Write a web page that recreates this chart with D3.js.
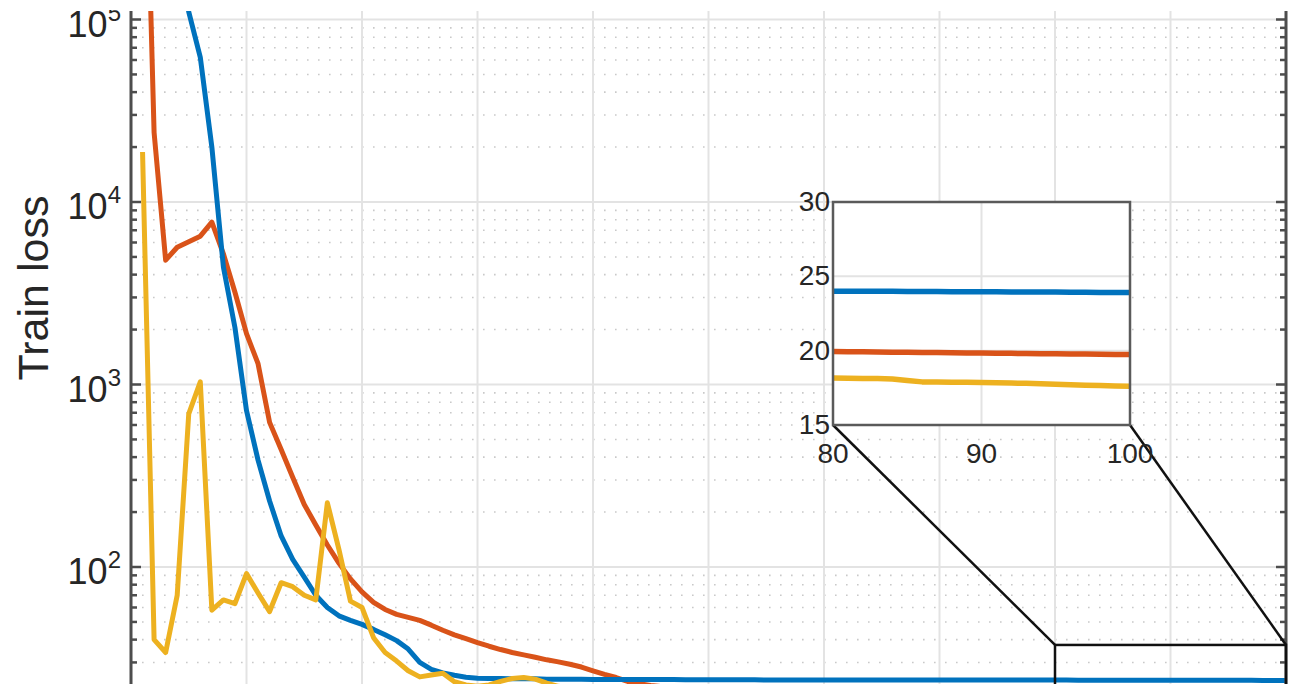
<!DOCTYPE html>
<html>
<head>
<meta charset="utf-8">
<script src="https://cdn.jsdelivr.net/npm/d3@7"></script>
<style>
  body { margin: 0; background: #fff; }
  svg { display: block; font-family: 'Liberation Sans', Arial, sans-serif; }
</style>
</head>
<body>
<svg id="svg_train_loss" width="1294" height="684"></svg>
<script>
const epochs = d3.range(1, 101);

const blueLoss = [
  2000000, 1200000, 700000, 320000, 110000, 62000, 20000, 4400, 2050, 720,
  385, 230, 148, 110, 88, 70, 60, 54, 51, 48.5,
  45.5, 42.5, 39.5, 35.5, 30, 27.5, 26.3, 25.5, 24.9, 24.6,
  24.5, 24.5, 24.4, 24.4, 24.4, 24.3, 24.3, 24.3, 24.3, 24.2,
  24.2, 24.2, 24.2, 24.2, 24.15, 24.15, 24.15, 24.1, 24.1, 24.1,
  24.1, 24.1, 24.08, 24.08, 24.06, 24.06, 24.05, 24.05, 24.04, 24.04,
  24.03, 24.03, 24.02, 24.02, 24.02, 24.01, 24.01, 24.01, 24.0, 24.0,
  24.0, 24.0, 24.0, 24.0, 24.0, 24.0, 24.0, 24.0, 24.0, 24.0,
  24.0, 23.99, 23.99, 23.99, 23.98, 23.98, 23.98, 23.97, 23.97, 23.96,
  23.96, 23.95, 23.95, 23.94, 23.94, 23.93, 23.93, 23.92, 23.92, 23.92
];

const redLoss = [
  5000000, 24000, 4800, 5650, 6050, 6500, 7750, 5200, 3200, 1900,
  1300, 620, 440, 310, 220, 170, 132, 105, 86, 73,
  64, 58.5, 55, 53, 51, 48, 45, 42.5, 40.5, 38.5,
  36.8, 35.3, 34, 33, 32, 31, 30.2, 29.3, 28.3, 27,
  25.8, 24.8, 23.6, 22.9, 22.4, 22.1, 21.8, 21.6, 21.4, 21.2,
  21.1, 21.0, 20.9, 20.8, 20.75, 20.7, 20.6, 20.55, 20.5, 20.45,
  20.4, 20.35, 20.3, 20.25, 20.2, 20.18, 20.15, 20.12, 20.1, 20.08,
  20.06, 20.04, 20.02, 20.0, 19.99, 19.98, 19.97, 19.96, 19.95, 19.94,
  19.93, 19.92, 19.91, 19.9, 19.89, 19.88, 19.87, 19.86, 19.85, 19.84,
  19.83, 19.82, 19.81, 19.8, 19.79, 19.78, 19.77, 19.76, 19.75, 19.74
];

const yellowLoss = [
  18800, 40, 34, 70, 690, 1035, 58, 66, 63, 92,
  72, 57, 82, 78, 70, 66, 225, 125, 65, 60,
  41, 34, 30.5, 27, 25, 25.6, 26.2, 23.5, 22.6, 22.2,
  22.6, 23.6, 24.5, 24.8, 24.3, 23.1, 22.2, 21.8, 21.6, 21.4,
  21.2, 21.0, 20.8, 20.6, 20.4, 20.2, 20.0, 19.8, 19.6, 19.5,
  19.4, 19.3, 19.2, 19.1, 19.0, 18.95, 18.9, 18.85, 18.8, 18.75,
  18.7, 18.65, 18.6, 18.55, 18.5, 18.45, 18.4, 18.38, 18.35, 18.32,
  18.3, 18.28, 18.26, 18.24, 18.22, 18.2, 18.19, 18.18, 18.17, 18.16,
  18.14, 18.13, 18.12, 18.1, 18.0, 17.9, 17.89, 17.88, 17.87, 17.86,
  17.84, 17.82, 17.8, 17.77, 17.74, 17.71, 17.68, 17.65, 17.62, 17.6
];

// drawing order: red first, yellow on top
const seriesNames = ['red', 'blue', 'yellow'];
const seriesValues = [redLoss, blueLoss, yellowLoss];
const seriesColors = ['#D95319', '#0072BD', '#EDB120'];

const xTickValues = [0, 10, 20, 30, 40, 50, 60, 70, 80, 90, 100];
const yTickValues = [1e2, 1e3, 1e4, 1e5];
const insetXTicks = [80, 90, 100];
const insetYTicks = [15, 20, 25, 30];
const zoomX = [80, 100];
const zoomY = [15, 37.4];

const series = seriesNames.map((name, i) => ({
  name: name,
  color: seriesColors[i],
  points: epochs.map((e, j) => ({ epoch: e, loss: seriesValues[i][j] }))
}));

const plotLeft = 131;
const plotRight = 1286;
const plotTop = 11;

const x = d3.scaleLinear().domain([0, 100]).range([plotLeft, plotRight]);
const y = d3.scaleLog().domain([10, 1e5]).range([749.5, 19.5]);

const svg = d3.select('#svg_train_loss');

svg.append('rect')
  .attr('width', 1294).attr('height', 684)
  .attr('fill', '#fff');

svg.append('defs').append('clipPath')
  .attr('id', 'plotClip')
  .append('rect')
  .attr('x', plotLeft).attr('y', plotTop)
  .attr('width', plotRight - plotLeft).attr('height', 800);

const minorTicks = y.ticks().filter((t) => !yTickValues.includes(t));

// grid
const grid = svg.append('g');
grid.selectAll('.minor')
  .data(minorTicks)
  .enter()
  .append('line')
  .attr('x1', plotLeft).attr('x2', plotRight)
  .attr('y1', (d) => y(d)).attr('y2', (d) => y(d))
  .attr('stroke', '#c9c9c9')
  .attr('stroke-width', 1.6)
  .attr('stroke-dasharray', '1.6,9.4');

grid.selectAll('.hmajor')
  .data(yTickValues)
  .enter()
  .append('line')
  .attr('x1', plotLeft).attr('x2', plotRight)
  .attr('y1', (d) => y(d)).attr('y2', (d) => y(d))
  .attr('stroke', '#e3e3e3')
  .attr('stroke-width', 2);

grid.selectAll('.vmajor')
  .data(xTickValues.slice(1, -1))
  .enter()
  .append('line')
  .attr('x1', (d) => x(d)).attr('x2', (d) => x(d))
  .attr('y1', plotTop).attr('y2', 684)
  .attr('stroke', '#e3e3e3')
  .attr('stroke-width', 2);

// curves
const line = d3.line()
  .x((d) => x(d.epoch))
  .y((d) => y(d.loss));

svg.append('g')
  .attr('clip-path', 'url(#plotClip)')
  .selectAll('path')
  .data(series)
  .enter()
  .append('path')
  .attr('d', (d) => line(d.points))
  .attr('fill', 'none')
  .attr('stroke', (d) => d.color)
  .attr('stroke-width', 5)
  .attr('stroke-linejoin', 'round');

// axes (left and right, ticks inward)
const axisColor = '#4d4d4d';
const axes = svg.append('g');
[plotLeft, plotRight].forEach((ax) => {
  const dir = ax === plotLeft ? 1 : -1;
  axes.append('line')
    .attr('x1', ax).attr('x2', ax)
    .attr('y1', plotTop).attr('y2', 684)
    .attr('stroke', axisColor)
    .attr('stroke-width', 3);
  axes.selectAll(null)
    .data(yTickValues)
    .enter()
    .append('line')
    .attr('x1', ax).attr('x2', ax + dir * 10)
    .attr('y1', (d) => y(d)).attr('y2', (d) => y(d))
    .attr('stroke', axisColor)
    .attr('stroke-width', 2.5);
  axes.selectAll(null)
    .data(minorTicks)
    .enter()
    .append('line')
    .attr('x1', ax).attr('x2', ax + dir * 6)
    .attr('y1', (d) => y(d)).attr('y2', (d) => y(d))
    .attr('stroke', axisColor)
    .attr('stroke-width', 2.5);
});

// y tick labels 10^n
const tickLabels = svg.append('g')
  .attr('fill', '#262626');
yTickValues.forEach((v) => {
  const t = tickLabels.append('text')
    .attr('x', 121)
    .attr('y', y(v) + 17)
    .attr('text-anchor', 'end')
    .style('font-size', '36px');
  t.append('tspan').text('10');
  t.append('tspan')
    .attr('dy', -16)
    .style('font-size', '24px')
    .text(Math.round(Math.log10(v)));
});

svg.append('text')
  .text('Train loss')
  .attr('transform', `translate(48, 288) rotate(-90)`)
  .attr('text-anchor', 'middle')
  .attr('fill', '#262626')
  .style('font-size', '43px');

// zoom box and connectors
const boxLeft = x(zoomX[0]);
const boxRight = x(zoomX[1]);
const boxTop = y(zoomY[1]);

const ix = d3.scaleLinear().domain([80, 100]).range([833, 1130]);
const iy = d3.scaleLinear().domain([15, 30]).range([425, 202]);

const zoomGroup = svg.append('g')
  .attr('stroke', '#111')
  .attr('stroke-width', 2.5)
  .attr('fill', 'none');
zoomGroup.append('rect')
  .attr('x', boxLeft).attr('y', boxTop)
  .attr('width', boxRight - boxLeft)
  .attr('height', y(zoomY[0]) - boxTop);
zoomGroup.append('line')
  .attr('x1', boxLeft).attr('y1', boxTop)
  .attr('x2', ix(80)).attr('y2', iy(15));
zoomGroup.append('line')
  .attr('x1', boxRight).attr('y1', boxTop)
  .attr('x2', ix(100)).attr('y2', iy(15));

// inset
const inset = svg.append('g');
inset.append('defs').append('clipPath')
  .attr('id', 'insetClip')
  .append('rect')
  .attr('x', ix(80)).attr('y', iy(30))
  .attr('width', ix(100) - ix(80))
  .attr('height', iy(15) - iy(30));

inset.append('rect')
  .attr('x', ix(80)).attr('y', iy(30))
  .attr('width', ix(100) - ix(80))
  .attr('height', iy(15) - iy(30))
  .attr('fill', '#fff');

inset.selectAll('.ivgrid')
  .data([90])
  .enter()
  .append('line')
  .attr('x1', (d) => ix(d)).attr('x2', (d) => ix(d))
  .attr('y1', iy(30)).attr('y2', iy(15))
  .attr('stroke', '#e3e3e3').attr('stroke-width', 2);
inset.selectAll('.ihgrid')
  .data([20, 25])
  .enter()
  .append('line')
  .attr('x1', ix(80)).attr('x2', ix(100))
  .attr('y1', (d) => iy(d)).attr('y2', (d) => iy(d))
  .attr('stroke', '#e3e3e3').attr('stroke-width', 2);

const insetLine = d3.line()
  .x((d) => ix(d.epoch))
  .y((d) => iy(d.loss));

inset.append('g')
  .attr('clip-path', 'url(#insetClip)')
  .selectAll('path')
  .data(series)
  .enter()
  .append('path')
  .attr('d', (d) => insetLine(d.points.filter((p) => p.epoch >= 80)))
  .attr('fill', 'none')
  .attr('stroke', (d) => d.color)
  .attr('stroke-width', 5.5)
  .attr('stroke-linejoin', 'round');

inset.append('rect')
  .attr('x', ix(80)).attr('y', iy(30))
  .attr('width', ix(100) - ix(80))
  .attr('height', iy(15) - iy(30))
  .attr('fill', 'none')
  .attr('stroke', '#5a5a5a')
  .attr('stroke-width', 2.5);

inset.selectAll('.ixtick')
  .data(insetXTicks)
  .enter()
  .append('text')
  .text((d) => d)
  .attr('x', (d) => ix(d))
  .attr('y', 463)
  .attr('text-anchor', 'middle')
  .attr('fill', '#262626')
  .style('font-size', '28px');

inset.selectAll('.iytick')
  .data(insetYTicks)
  .enter()
  .append('text')
  .text((d) => d)
  .attr('x', 830)
  .attr('y', (d) => iy(d) + 9)
  .attr('text-anchor', 'end')
  .attr('fill', '#262626')
  .style('font-size', '28px');

// figure edge above the axes
svg.append('rect')
  .attr('x', 0).attr('y', 0)
  .attr('width', 1294).attr('height', plotTop - 1)
  .attr('fill', '#fff');
</script>
</body>
</html>
